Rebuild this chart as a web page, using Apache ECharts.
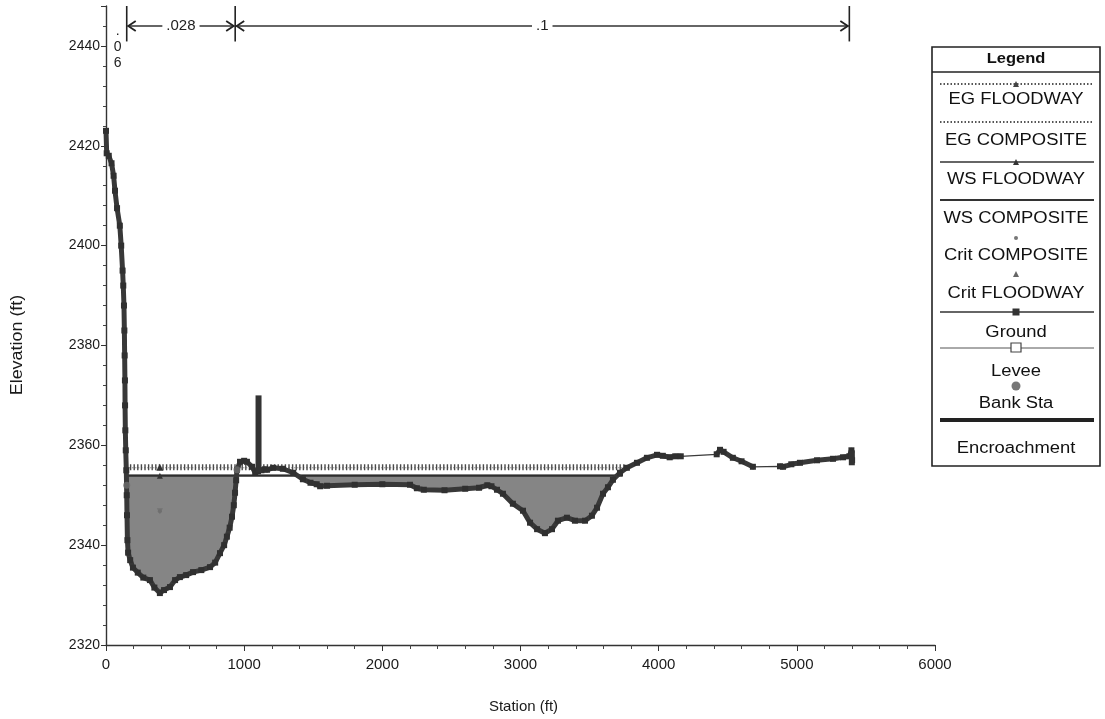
<!DOCTYPE html>
<html><head><meta charset="utf-8">
<script src="https://cdn.jsdelivr.net/npm/echarts@6/dist/echarts.min.js"></script>
<style>html,body{margin:0;padding:0;background:#fff}#c{width:1105px;height:719px}</style>
</head><body><div id="c"></div>
<script>
// ---------------- DATA ----------------
const groundStation = [0, 5, 20, 40, 55, 65, 80, 100, 110, 120, 125, 130, 133, 135, 137, 138, 140, 143, 147, 150, 152, 155, 160, 175, 195, 230, 270, 318, 350, 390, 420, 463, 500, 535, 580, 630, 690, 753, 790, 825, 855, 875, 895, 912, 925, 934, 942, 948, 970, 1000, 1020, 1057, 1080, 1100, 1125, 1150, 1165, 1210, 1280, 1355, 1425, 1480, 1525, 1550, 1600, 1800, 2000, 2200, 2250, 2300, 2450, 2600, 2700, 2760, 2790, 2830, 2873, 2945, 3018, 3069, 3120, 3177, 3228, 3271, 3336, 3394, 3467, 3517, 3554, 3597, 3633, 3669, 3720, 3770, 3843, 3915, 3988, 4030, 4080, 4120, 4160, 4420, 4444, 4470, 4537, 4600, 4682, 4878, 4900, 4960, 5023, 5146, 5262, 5334, 5380, 5395, 5400];
const groundElev = [2423, 2418.5, 2418, 2416.5, 2414, 2411, 2407.5, 2404, 2400, 2395, 2392, 2388, 2383, 2378, 2373, 2368, 2363, 2359, 2355, 2350, 2346, 2341, 2338.5, 2337, 2335.5, 2334.5, 2333.5, 2333, 2331.5, 2330.4, 2331, 2331.6, 2333, 2333.6, 2334, 2334.6, 2335, 2335.6, 2336.5, 2338.4, 2340, 2341.7, 2343.5, 2345.7, 2348, 2350.5, 2353, 2355.1, 2356.7, 2356.9, 2356.7, 2355.7, 2354.5, 2354.8, 2355, 2355.2, 2355.1, 2355.5, 2355.3, 2354.5, 2353.2, 2352.5, 2352.2, 2351.8, 2351.9, 2352.1, 2352.2, 2352.1, 2351.4, 2351.1, 2351.0, 2351.3, 2351.5, 2352.0, 2351.8, 2351.1, 2350.3, 2348.3, 2346.9, 2344.5, 2343.2, 2342.4, 2343.2, 2344.9, 2345.5, 2344.9, 2344.9, 2345.9, 2347.5, 2350.3, 2351.6, 2353.1, 2354.5, 2355.5, 2356.5, 2357.5, 2358.1, 2357.9, 2357.6, 2357.8, 2357.8, 2358.2, 2359.1, 2358.7, 2357.5, 2356.8, 2355.7, 2355.8, 2355.7, 2356.2, 2356.5, 2357.0, 2357.3, 2357.6, 2357.8, 2359, 2357];
const groundSparseAfter = [4160, 4682];          // survey gaps (thin line only)
const wsFloodwayElev = 2353.9;
const wsCompositeElev = 2354.0;
const egFloodwayElev = 2355.6;
const egCompositeElev = 2355.5;
const wsStations = [147, 3740];
const egStations = [147, 3762];
const profileMarkerStation = 390;
const critStation = [390];
const critElev = [2346.8];
const bankStation = [150, 948];
const bankElev = [2352, 2355.1];
const encroachStation = [1104, 5398];
const encroachBottom = [2354.6, 2356];
const encroachTop = [2370, 2359];
const nBreaks = [0, 150, 935, 5380];
const nValues = ['.06', '.028', '.1'];
const legendNames = ['EG FLOODWAY', 'EG COMPOSITE', 'WS FLOODWAY', 'WS COMPOSITE', 'Crit COMPOSITE', 'Crit FLOODWAY', 'Ground', 'Levee', 'Bank Sta', 'Encroachment'];
const xName = 'Station (ft)';
const yName = 'Elevation (ft)';

// ---------------- CHART ----------------
const FONT = '"Liberation Sans", Arial, sans-serif';
const chart = echarts.init(document.getElementById('c'), null, {renderer: 'canvas'});

const groundPairs = groundStation.map((s, i) => [s, groundElev[i]]);
const groundThick = [];
groundPairs.forEach(p => {
  groundThick.push(p);
  if (groundSparseAfter.indexOf(p[0]) >= 0) groundThick.push([p[0] + 1, '-']);
});

function waterPolys(level) {
  const polys = []; let cur = null;
  for (let i = 0; i < groundPairs.length; i++) {
    const [s, e] = groundPairs[i];
    const below = e < level;
    if (i > 0) {
      const [ps, pe] = groundPairs[i - 1];
      const pb = pe < level;
      if (below !== pb) {
        const t = (level - pe) / (e - pe);
        const xs = ps + t * (s - ps);
        if (below) cur = [[xs, level]];
        else if (cur) { cur.push([xs, level]); polys.push(cur); cur = null; }
      }
    }
    if (below && cur) cur.push([s, e]);
  }
  return polys;
}

const option = {
  backgroundColor: '#fff',
  animation: false,
  grid: {left: 106, top: 6, width: 829, height: 639, outerBoundsMode: 'none', containLabel: false},
  xAxis: {
    type: 'value', min: 0, max: 6000, interval: 1000,
    name: xName, nameLocation: 'middle', nameGap: 54,
    nameTextStyle: {fontFamily: FONT, fontSize: 15, color: '#1a1a1a', padding: [0, 0, 0, 6]},
    axisLine: {lineStyle: {color: '#333', width: 1.4}},
    axisTick: {show: true, length: 6, lineStyle: {color: '#333'}},
    minorTick: {show: true, splitNumber: 5, length: 4, lineStyle: {color: '#444'}},
    axisLabel: {fontFamily: FONT, fontSize: 15, color: '#1a1a1a', margin: 12,
      formatter: v => String(v)},
    splitLine: {show: false}
  },
  yAxis: {
    type: 'value', min: 2320, max: 2448, interval: 20,
    axisLine: {lineStyle: {color: '#333', width: 1.4}},
    axisTick: {show: true, length: 5, lineStyle: {color: '#333'}},
    minorTick: {show: true, splitNumber: 5, length: 3, lineStyle: {color: '#444'}},
    axisLabel: {fontFamily: FONT, fontSize: 14, color: '#1a1a1a', margin: 6,
      formatter: v => (v % 20 === 0 ? String(v) : '')},
    splitLine: {show: false}
  },
  series: [
    { // water fill
      type: 'custom', name: 'water', z: 1, silent: true,
      data: [[0, 2400]],
      renderItem: (params, api) => {
        const children = waterPolys(wsFloodwayElev).map(poly => ({
          type: 'polygon',
          shape: {points: poly.map(p => api.coord(p))},
          style: {fill: '#858585', stroke: null}
        }));
        return {type: 'group', children};
      }
    },
    {
      type: 'line', name: 'WS COMPOSITE', z: 3, symbol: 'none',
      data: wsStations.map(s => [s, wsCompositeElev]),
      lineStyle: {color: '#3a3a3a', width: 1.5}
    },
    {
      type: 'line', name: 'WS FLOODWAY', z: 3,
      data: [[wsStations[0], wsFloodwayElev],
             {value: [profileMarkerStation, wsFloodwayElev], symbol: 'triangle', symbolSize: 6},
             [wsStations[1], wsFloodwayElev]],
      symbol: 'none', showSymbol: true,
      itemStyle: {color: '#333'},
      lineStyle: {color: '#2e2e2e', width: 2}
    },
    {
      type: 'line', name: 'EG COMPOSITE', z: 3, symbol: 'none',
      data: egStations.map(s => [s, egCompositeElev]),
      lineStyle: {color: '#666', width: 1, type: [1, 2]}
    },
    {
      type: 'line', name: 'EG FLOODWAY', z: 3,
      data: [[egStations[0], egFloodwayElev],
             {value: [profileMarkerStation, egFloodwayElev], symbol: 'triangle', symbolSize: 7},
             [egStations[1], egFloodwayElev]],
      symbol: 'none', showSymbol: true,
      itemStyle: {color: '#333'},
      lineStyle: {color: '#4a4a4a', width: 6, type: [1.4, 2.2]}
    },
    {
      type: 'scatter', name: 'Crit COMPOSITE', z: 3,
      data: critStation.map((s, i) => [s, critElev[i]]),
      symbol: 'circle', symbolSize: 4, itemStyle: {color: '#6a6a6a'}
    },
    {
      type: 'scatter', name: 'Crit FLOODWAY', z: 3,
      data: critStation.map((s, i) => [s, critElev[i]]),
      symbol: 'triangle', symbolSize: 6, symbolRotate: 180, itemStyle: {color: '#6f6f6f'}
    },
    {
      type: 'line', name: 'Ground thin', z: 4, symbol: 'none',
      data: groundPairs, connectNulls: true,
      lineStyle: {color: '#3a3a3a', width: 1.3}
    },
    {
      type: 'line', name: 'Ground', z: 5,
      data: groundThick, connectNulls: false,
      symbol: 'rect', symbolSize: 6, showSymbol: true, showAllSymbol: true,
      itemStyle: {color: '#303030'},
      lineStyle: {color: '#383838', width: 5, join: 'round', cap: 'round'}
    },
    {
      type: 'scatter', name: 'Levee', z: 5, data: [],
      symbol: 'rect', symbolSize: 9, itemStyle: {color: '#fff', borderColor: '#444'}
    },
    {
      type: 'scatter', name: 'Bank Sta', z: 6,
      data: bankStation.map((s, i) => [s, bankElev[i]]),
      symbol: 'circle', symbolSize: 7, itemStyle: {color: '#6d6d6d'}
    },
    { // encroachments
      type: 'custom', name: 'Encroachment', z: 6,
      data: encroachStation.map((s, i) => [s, encroachBottom[i], encroachTop[i]]),
      renderItem: (params, api) => {
        const a = api.coord([api.value(0), api.value(1)]);
        const b = api.coord([api.value(0), api.value(2)]);
        return {type: 'line', shape: {x1: a[0], y1: a[1], x2: b[0], y2: b[1]},
          style: {stroke: '#333', lineWidth: 6}};
      }
    },
    { // Manning's n annotation
      type: 'custom', name: 'n', z: 7, silent: true, clip: false,
      data: [[0, 2444]],
      renderItem: (params, api) => {
        const rowElev = 2444, topElev = 2448, lowElev = 2440.9;
        const ch = [];
        for (let i = 1; i < nBreaks.length; i++) {
          const t = api.coord([nBreaks[i], topElev]);
          const b = api.coord([nBreaks[i], lowElev]);
          ch.push({type: 'line', shape: {x1: t[0], y1: t[1], x2: b[0], y2: b[1]},
            style: {stroke: '#222', lineWidth: 1.6}});
        }
        // first (narrow) zone: vertical text
        const c0 = api.coord([(nBreaks[0] + nBreaks[1]) / 2 + 10, 2444.6]);
        ch.push({type: 'text', x: c0[0], y: c0[1],
          style: {text: nValues[0].split('').join('\n'), fontFamily: FONT, fontSize: 14,
            lineHeight: 16, fill: '#222', align: 'center', verticalAlign: 'top'}});
        for (let i = 1; i < nValues.length; i++) {
          const L = api.coord([nBreaks[i], rowElev]);
          const R = api.coord([nBreaks[i + 1], rowElev]);
          const y = L[1];
          ch.push({type: 'line', shape: {x1: L[0] + 1, y1: y, x2: R[0] - 1, y2: y},
            style: {stroke: '#333', lineWidth: 1.4}});
          ch.push({type: 'polyline', shape: {points: [[L[0] + 9, y - 5], [L[0] + 1.5, y], [L[0] + 9, y + 5]]},
            style: {stroke: '#222', lineWidth: 1.8, fill: null}});
          ch.push({type: 'polyline', shape: {points: [[R[0] - 9, y - 5], [R[0] - 1.5, y], [R[0] - 9, y + 5]]},
            style: {stroke: '#222', lineWidth: 1.8, fill: null}});
          ch.push({type: 'text', x: (L[0] + R[0]) / 2, y: y,
            style: {text: nValues[i], fontFamily: FONT, fontSize: 15, fill: '#222',
              align: 'center', verticalAlign: 'middle', backgroundColor: '#fff', padding: [0, 4]}});
        }
        return {type: 'group', children: ch};
      }
    }
  ]
};

// ---------------- LEGEND & Y TITLE (graphic) ----------------
const LX = 932, LY = 47, LW = 168, LH = 419;
const sampleY = [84, 122, 162, 200, 238, 274, 312, 352, 388, 420];
const textY = [100, 141, 180, 219, 256, 294, 333, 372, 404, 449];
const sx1 = LX + 8, sx2 = LX + LW - 6, cx = LX + LW / 2;
const g = [];
g.push({type: 'text', x: 18, y: 345, rotation: Math.PI / 2, scaleX: 1.12,
  style: {text: yName, fontFamily: FONT, fontSize: 16, fill: '#1a1a1a', align: 'center', verticalAlign: 'middle'}});
g.push({type: 'rect', shape: {x: LX, y: LY, width: LW, height: LH}, style: {fill: '#fff', stroke: '#222', lineWidth: 1.6}});
g.push({type: 'text', x: cx, y: 59, scaleX: 1.1, style: {text: 'Legend', fontFamily: FONT, fontSize: 15, fontWeight: 'bold', fill: '#111', align: 'center', verticalAlign: 'middle'}});
g.push({type: 'line', shape: {x1: LX, y1: 72, x2: LX + LW, y2: 72}, style: {stroke: '#222', lineWidth: 1.6}});
function hline(y, style) { g.push({type: 'line', shape: {x1: sx1, y1: y, x2: sx2, y2: y}, style}); }
function tri(y, col, s) { g.push({type: 'polygon', shape: {points: [[cx - s, y + s], [cx + s, y + s], [cx, y - s]]}, style: {fill: col}}); }
legendNames.forEach((name, i) => {
  const y = sampleY[i];
  switch (name) {
    case 'EG FLOODWAY': hline(y, {stroke: '#555', lineWidth: 2, lineDash: [1.5, 2]}); tri(y, '#444', 3); break;
    case 'EG COMPOSITE': hline(y, {stroke: '#555', lineWidth: 2, lineDash: [1.5, 2]}); break;
    case 'WS FLOODWAY': hline(y, {stroke: '#333', lineWidth: 1.5}); tri(y, '#333', 3); break;
    case 'WS COMPOSITE': hline(y, {stroke: '#333', lineWidth: 2}); break;
    case 'Crit COMPOSITE': g.push({type: 'circle', shape: {cx, cy: y, r: 2}, style: {fill: '#777'}}); break;
    case 'Crit FLOODWAY': tri(y, '#666', 3); break;
    case 'Ground': hline(y, {stroke: '#333', lineWidth: 1.5}); g.push({type: 'rect', shape: {x: cx - 3.5, y: y - 3.5, width: 7, height: 7}, style: {fill: '#333'}}); break;
    case 'Levee': hline(y - 4, {stroke: '#555', lineWidth: 1}); g.push({type: 'rect', shape: {x: cx - 5, y: y - 9, width: 10, height: 9}, style: {fill: '#fff', stroke: '#444', lineWidth: 1.2}}); break;
    case 'Bank Sta': g.push({type: 'circle', shape: {cx, cy: y - 2, r: 4.5}, style: {fill: '#777'}}); break;
    case 'Encroachment': hline(y, {stroke: '#222', lineWidth: 4}); break;
  }
  g.push({type: 'text', x: cx, y: textY[i], scaleX: 1.15,
    style: {text: name, fontFamily: FONT, fontSize: 16, fill: '#111', align: 'center', verticalAlign: 'middle'}});
});
option.graphic = {elements: g};

chart.setOption(option);
</script>
</body></html>
